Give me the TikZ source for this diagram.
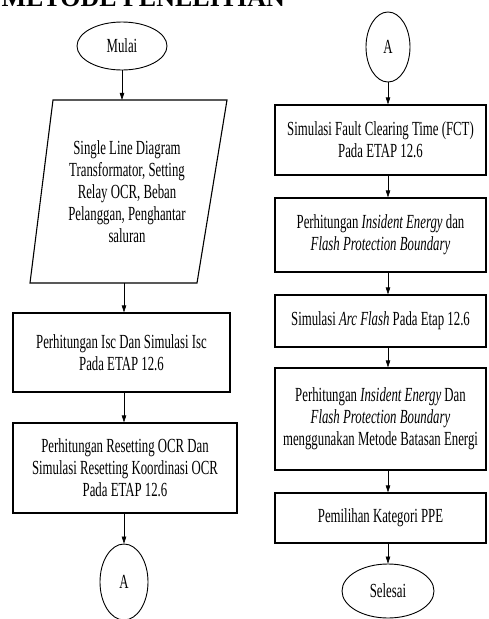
\documentclass[tikz,border=0pt]{standalone}
\usepackage{fontspec}
\setmainfont{Liberation Serif}[FakeStretch=0.64]
\newfontfamily\titlefont{Liberation Serif}
\usetikzlibrary{shapes.geometric,arrows.meta}
\tikzset{flow text/.style={font=\fontsize{20}{22}\selectfont, align=center, inner sep=0pt}}
\tikzset{proc box/.style={flow text, draw, line width=1.1pt, minimum width=#1},
	proc box/.default=211pt}
\tikzset{terminal/.style={flow text, draw, ellipse, line width=0.9pt}}

\begin{document}
\begin{tikzpicture}[
		x=1pt, y=-1pt,
		flow arrow/.style={-{Triangle[length=7pt,width=4.5pt]}, line width=0.6pt}
		]    % y runs downward, one unit is one pixel of the layout
		\useasboundingbox (0,0) rectangle (489,619);
		\node[anchor=base west, font=\titlefont\bfseries\fontsize{26}{26}\selectfont] (title) at (-2,6) {METODE PENELITIAN};
		% left column
		\node[terminal, minimum width=90pt, minimum height=48pt] (mulai) at (122,46) {Mulai};
		\draw[line width=1.1pt] (53,100) -- (227,100) -- (197,283) -- (30,283) -- cycle;
		\node[flow text, minimum height=183pt] (input) at (127,191.5) {Single Line Diagram\\Transformator, Setting\\Relay OCR, Beban\\Pelanggan, Penghantar\\saluran};
		\node[proc box=217pt, minimum height=79pt] (isc) at (121.5,352.5) {Perhitungan Isc Dan Simulasi Isc\\Pada ETAP 12.6};
		\node[proc box=224pt, minimum height=90pt] (ocr) at (125,468) {Perhitungan Resetting OCR Dan\\Simulasi Resetting Koordinasi OCR\\Pada ETAP 12.6};
		\node[terminal, minimum width=48pt, minimum height=76pt] (keluar) at (124,582) {A};
		% right column
		\node[terminal, minimum width=44pt, minimum height=70pt] (masuk) at (388,47) {A};
		\node[proc box, minimum height=70pt] (fct) at (380.5,140) {Simulasi Fault Clearing Time (FCT)\\Pada ETAP 12.6};
		\node[proc box, minimum height=74pt] (ie) at (380.5,235) {Perhitungan \textit{Insident Energy} dan\\\textit{Flash Protection Boundary}};
		\node[proc box, minimum height=52pt] (arc) at (380.5,321) {Simulasi \textit{Arc Flash} Pada Etap 12.6};
		\node[proc box, minimum height=102pt] (batas) at (380.5,419) {Perhitungan \textit{Insident Energy} Dan\\\textit{Flash Protection Boundary}\\menggunakan Metode Batasan Energi};
		\node[proc box, minimum height=50pt] (ppe) at (380.5,518) {Pemilihan Kategori PPE};
		\node[terminal, minimum width=92pt, minimum height=54pt] (selesai) at (388,591) {Selesai};
		% connectors
		\draw[flow arrow] (mulai.south) -- (mulai.south |- input.north);
		\draw[flow arrow] (input.south -| keluar) -- (isc.north -| keluar);
		\draw[flow arrow] (isc.south -| keluar) -- (ocr.north -| keluar);
		\draw[flow arrow] (ocr.south -| keluar) -- (keluar.north);
		\draw[flow arrow] (masuk.south) -- (masuk.south |- fct.north);
		\draw[flow arrow] (fct.south -| masuk) -- (ie.north -| masuk);
		\draw[flow arrow] (ie.south -| masuk) -- (arc.north -| masuk);
		\draw[flow arrow] (arc.south -| masuk) -- (batas.north -| masuk);
		\draw[flow arrow] (batas.south -| masuk) -- (ppe.north -| masuk);
		\draw[flow arrow] (ppe.south -| masuk) -- (selesai.north);
	\end{tikzpicture}
\end{document}
